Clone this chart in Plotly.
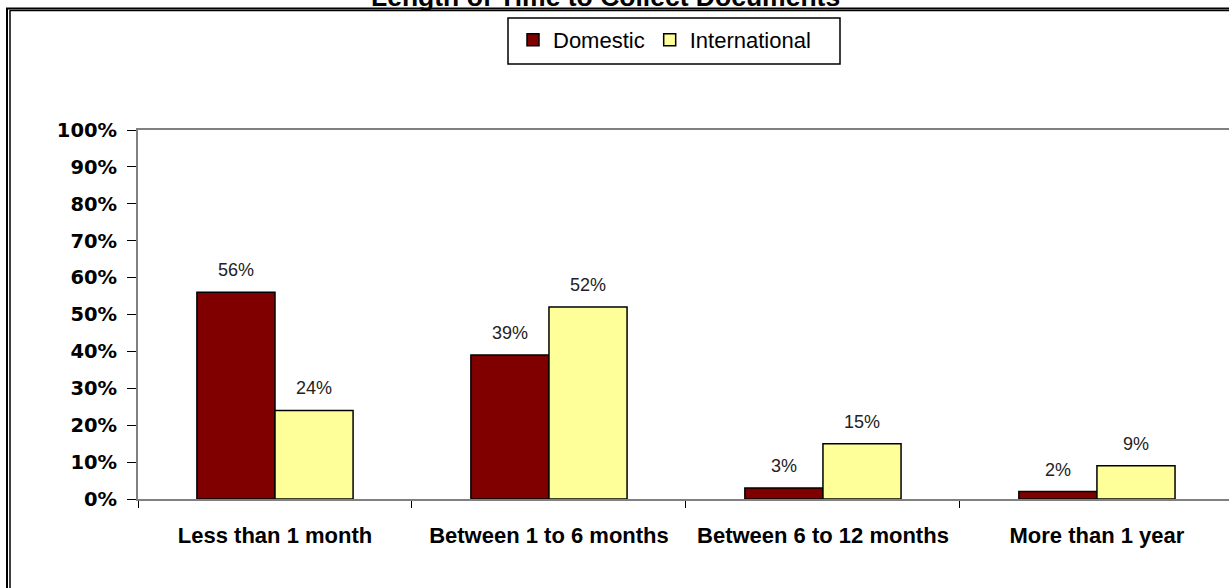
import plotly.graph_objects as go

categories = ["Less than 1 month", "Between 1 to 6 months", "Between 6 to 12 months", "More than 1 year"]
domestic = [56, 39, 3, 2]
international = [24, 52, 15, 9]
y_ticks = [0, 10, 20, 30, 40, 50, 60, 70, 80, 90, 100]
title_text = "Length of Time to Collect Documents"

W, H = 1229, 588
L, T, B = 138, 130, 89
pw, ph = W - L, H - T - B


def px_x(p):
    return (p - L) / pw


def px_y(p):
    return (H - B - p) / ph


fig = go.Figure()
fig.add_trace(go.Bar(name="Domestic", x=categories, y=domestic,
                     marker=dict(color="#800000", line=dict(color="black", width=1.5))))
fig.add_trace(go.Bar(name="International", x=categories, y=international,
                     marker=dict(color="#FFFF99", line=dict(color="black", width=1.5))))

# value labels above bars
for vals, shift in [(domestic, -39), (international, 39)]:
    for c, v in zip(categories, vals):
        fig.add_annotation(x=c, y=v, text=f"{v}%", showarrow=False, xshift=shift,
                           yanchor="bottom", yshift=10,
                           font=dict(family="Arial", size=18, color="#222"))

# title, clipped at the top edge as in the source
fig.add_annotation(xref="paper", yref="paper", x=px_x(605), y=px_y(14), yanchor="bottom",
                   text=f"<b>{title_text}</b>", showarrow=False,
                   font=dict(family="Arial", size=26.5, color="black"))

# double outer border
fig.add_shape(type="rect", xref="paper", yref="paper", x0=px_x(7), y0=px_y(610), x1=px_x(1250), y1=px_y(8.5),
              line=dict(color="black", width=2), layer="below")
fig.add_shape(type="rect", xref="paper", yref="paper", x0=px_x(10), y0=px_y(610), x1=px_x(1250), y1=px_y(10.5),
              line=dict(color="black", width=1.5), layer="below")
# legend frame
fig.add_shape(type="rect", xref="paper", yref="paper", x0=px_x(508), y0=px_y(64), x1=px_x(840), y1=px_y(18),
              line=dict(color="black", width=1.5), fillcolor="white", layer="below")

fig.update_layout(
    width=W, height=H,
    margin=dict(l=L, r=0, t=T, b=B),
    paper_bgcolor="white", plot_bgcolor="white",
    barmode="group", bargap=0.43, bargroupgap=0,
    showlegend=True,
    legend=dict(orientation="h", x=px_x(513), y=px_y(19), xanchor="left", yanchor="top",
                borderwidth=0, bgcolor="rgba(0,0,0,0)",
                font=dict(family="Arial", size=22, color="black"),
                itemwidth=30, tracegroupgap=0),
    font=dict(family="Arial"),
)
fig.update_xaxes(range=[-0.5, 3.482], showline=True, linecolor="#808080", linewidth=2, mirror=True,
                 ticks="outside", tickson="boundaries", ticklen=7, tickcolor="black",
                 ticklabelstandoff=16, showgrid=False,
                 tickfont=dict(family="Arial", size=22, color="black"))
fig.update_yaxes(range=[0, 100], tickvals=y_ticks, ticktext=[f"<b>{v}%</b>" for v in y_ticks],
                 showline=True, linecolor="#808080", linewidth=2, showgrid=False, zeroline=False,
                 ticks="outside", ticklen=9, tickcolor="black", ticklabelstandoff=6,
                 tickfont=dict(family="DejaVu Sans", size=19.5, color="black"))
fig.update_xaxes(ticktext=[f"<b>{c}</b>" for c in categories], tickvals=categories)

fig.write_html("out.html", config={"displayModeBar": False},
               post_script="document.body.style.margin='0';document.body.style.overflow='hidden';")
